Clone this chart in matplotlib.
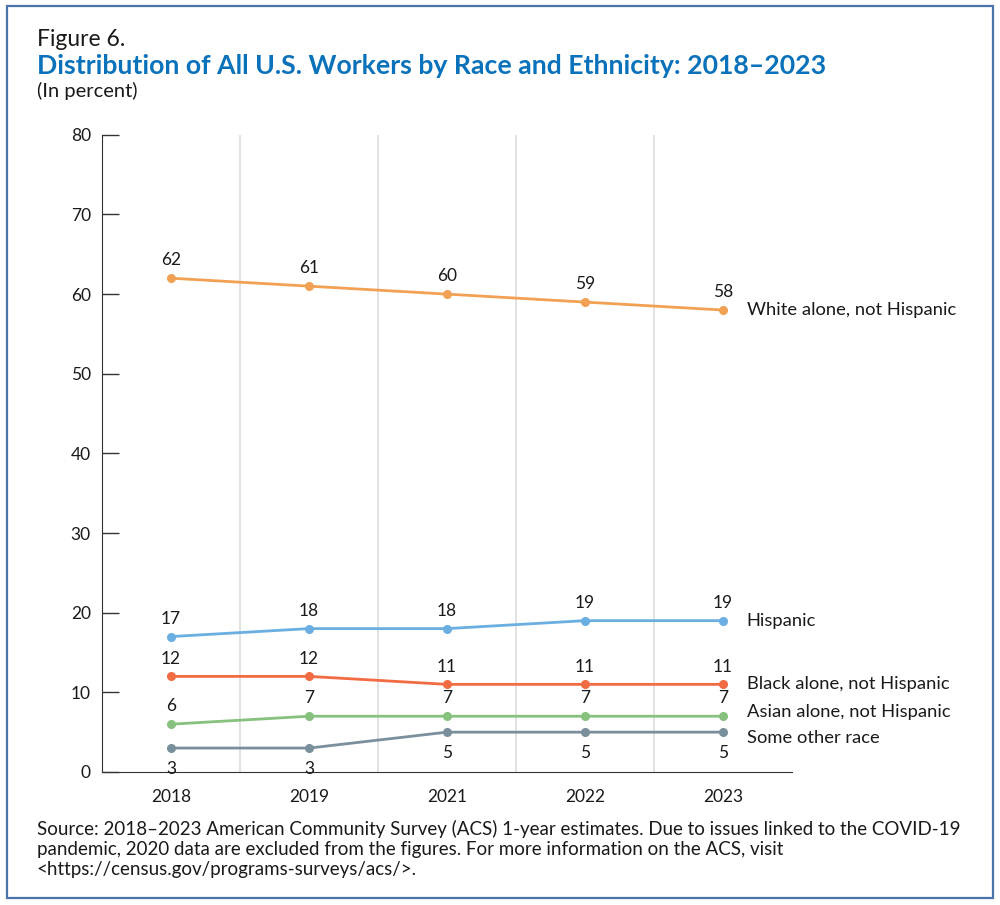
import matplotlib
matplotlib.use("Agg")
import matplotlib.pyplot as plt
from matplotlib.patches import Rectangle

years = ["2018", "2019", "2021", "2022", "2023"]
series_names = ["White alone, not Hispanic", "Hispanic", "Black alone, not Hispanic",
                "Asian alone, not Hispanic", "Some other race"]
white = [62, 61, 60, 59, 58]
hispanic = [17, 18, 18, 19, 19]
black = [12, 12, 11, 11, 11]
asian = [6, 7, 7, 7, 7]
other = [3, 3, 5, 5, 5]
yticks = [0, 10, 20, 30, 40, 50, 60, 70, 80]

values = [white, hispanic, black, asian, other]
colors = ["#F2A154", "#6AAEE2", "#F26B43", "#86C17D", "#7A8F9C"]
label_below = [False, False, False, False, True]
end_label_offset_px = [0, 0, 0, 3, -4]

plt.rcParams['font.family'] = ['Lato', 'DejaVu Sans']

fig = plt.figure(figsize=(10, 9.05), dpi=100)
fig.patches.append(Rectangle((0.007, 0.008), 0.986, 0.985, transform=fig.transFigure,
                             fill=False, edgecolor="#4A73A8", linewidth=1.6))

fig.text(0.037, 0.956, "Figure 6.", fontsize=16.5, color="#1a1a1a", va="center", ha="left")
fig.text(0.037, 0.927, "Distribution of All U.S. Workers by Race and Ethnicity: 2018\u20132023",
         fontsize=19.2, fontweight="bold", color="#0A72BA", va="center", ha="left")
fig.text(0.037, 0.900, "(In percent)", fontsize=14.5, color="#1a1a1a", va="center", ha="left")

ax = fig.add_axes([0.102, 0.147, 0.690, 0.704])
x = list(range(len(years)))
for vals, col, below, name, off in zip(values, colors, label_below, series_names, end_label_offset_px):
    ax.plot(x, vals, color=col, linewidth=2.0, marker="o", markersize=5.5, zorder=3, clip_on=False)
    for xi, v in zip(x, vals):
        if below:
            ax.annotate(str(v), (xi, v), xytext=(0, -9), textcoords="offset points",
                        ha="center", va="top", fontsize=12.5, color="#1a1a1a")
        else:
            ax.annotate(str(v), (xi, v), xytext=(0, 7), textcoords="offset points",
                        ha="center", va="bottom", fontsize=12.5, color="#1a1a1a")
    ax.annotate(name, (x[-1], vals[-1]), xytext=(17, off), textcoords="offset points",
                ha="left", va="center", fontsize=13.2, color="#1a1a1a", annotation_clip=False)

ax.set_xlim(-0.5, 4.5)
ax.set_ylim(0, 80)
ax.set_yticks(yticks)
ax.set_xticks(x)
ax.set_xticklabels(years)
for gx in [0.5, 1.5, 2.5, 3.5]:
    ax.axvline(gx, color="#dddddd", linewidth=1.2, zorder=1)
ax.spines["top"].set_visible(False)
ax.spines["right"].set_visible(False)
ax.spines["left"].set_color("#333333")
ax.spines["bottom"].set_color("#333333")
ax.tick_params(axis="y", direction="in", length=12, width=1, color="#333333",
               labelsize=12.5, labelcolor="#1a1a1a", pad=8)
ax.tick_params(axis="x", length=0, labelsize=12.5, labelcolor="#1a1a1a", pad=12)

src = ("Source: 2018\u20132023 American Community Survey (ACS) 1-year estimates. Due to issues linked to the COVID-19\n"
       "pandemic, 2020 data are excluded from the figures. For more information on the ACS, visit\n"
       "<https://census.gov/programs-surveys/acs/>.")
fig.text(0.037, 0.062, src, fontsize=13.5, color="#1a1a1a", va="center", ha="left",
         linespacing=1.22)

fig.savefig("out.png", dpi=100)
